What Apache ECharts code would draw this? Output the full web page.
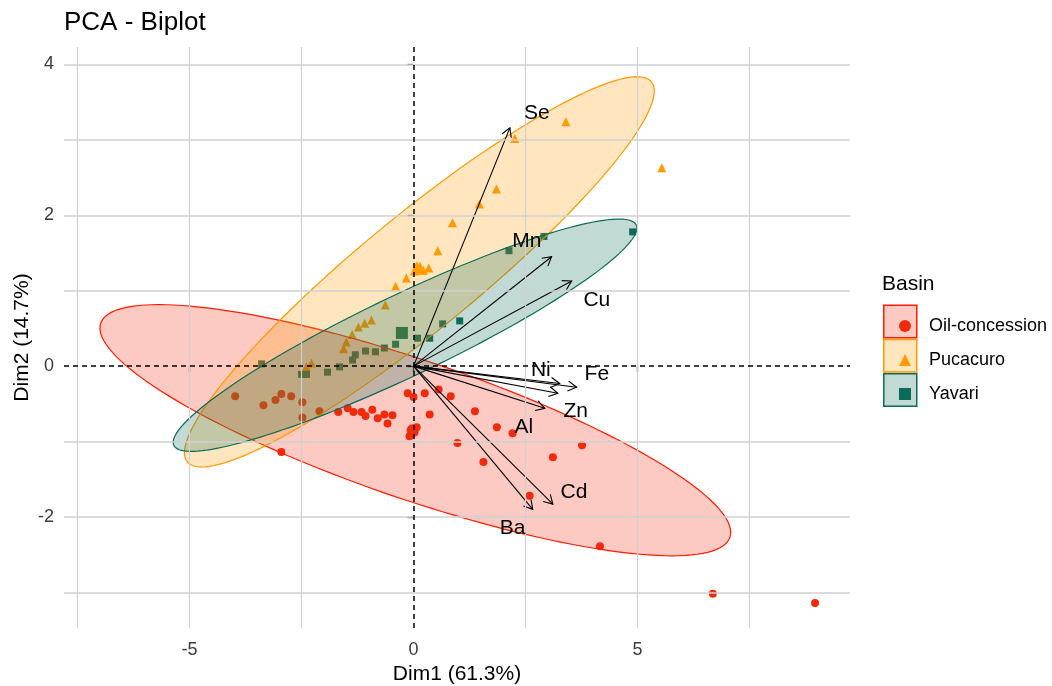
<!DOCTYPE html>
<html><head><meta charset="utf-8">
<script src="https://cdn.jsdelivr.net/npm/echarts@6/dist/echarts.min.js"></script>
<style>html,body{margin:0;padding:0;background:#fff}#c{width:1052px;height:686px}</style>
</head><body><div id="c"></div>
<script>
// ---------- data ----------
const groups = ['Oil-concession', 'Pucacuro', 'Yavari'];
const oilPoints = [
  [-3.98,-0.40],[-3.35,-0.52],[-3.08,-0.45],[-2.95,-0.37],[-2.73,-0.40],[-2.48,-0.48],[-2.48,-0.68],
  [-2.95,-1.14],[-2.10,-0.60],[-1.68,-0.61],[-1.47,-0.56],[-1.34,-0.61],[-1.16,-0.61],[-1.07,-0.66],
  [-0.92,-0.58],[-0.80,-0.69],[-0.65,-0.64],[-0.47,-0.65],[-0.58,-0.76],[-0.13,-0.36],[0.00,-0.41],
  [-0.02,-0.85],[0.07,-0.81],[-0.09,-0.93],[0.02,-0.88],[0.25,-0.36],[0.56,-0.31],[0.83,-0.40],
  [0.36,-0.64],[1.37,-0.60],[1.86,-0.81],[2.21,-0.89],[0.98,-1.02],[1.56,-1.27],[3.11,-1.21],
  [3.76,-1.05],[2.59,-1.72],[4.16,-2.39],[6.68,-3.02],[8.96,-3.14]
];
const pucacuroPoints = [
  [3.40,3.24],[2.26,3.02],[5.54,2.63],[1.85,2.35],[1.47,2.15],[0.87,1.90],[0.54,1.53],[0.13,1.30],
  [0.02,1.26],[0.22,1.27],[0.34,1.30],[0.07,1.33],[-0.16,1.17],[-0.40,1.06],[-0.63,0.81],[-0.94,0.61],
  [-1.09,0.57],[-1.23,0.52],[-1.37,0.42],[-1.50,0.32],[-1.56,0.23],[-2.28,0.04],[-2.39,-0.01]
];
const yavariPoints = [
  [4.89,1.78],[2.91,1.72],[2.13,1.53],[1.03,0.60],[0.65,0.56],[0.36,0.37],[0.09,0.37],[-0.25,0.44],
  [-0.40,0.29],[-0.65,0.24],[-0.85,0.19],[-1.07,0.20],[-1.30,0.15],[-1.36,0.08],[-1.65,-0.01],
  [-1.92,-0.08],[-2.39,-0.11],[-2.50,-0.11],[-3.39,0.03]
];
const groupMeans = [[-0.02,-0.85],[0.14,1.30],[-0.26,0.44]];
// confidence ellipses: centre, and two conjugate semi-axis vectors (data units)
const ellipseCenters = [[0.04,-0.85],[0.13,1.25],[-0.19,0.41]];
const ellipseMajor = [[7.02,-1.42],[5.18,2.52],[5.16,1.46]];
const ellipseMinor = [[-0.50,-0.87],[0.81,-0.59],[0.38,-0.49]];
// variables
const varNames = ['Se','Mn','Cu','Ni','Fe','Al','Zn','Cd','Ba'];
const varTips = [[2.15,3.16],[3.08,1.45],[3.53,1.13],[3.26,-0.23],[3.64,-0.28],[3.22,-0.36],[2.93,-0.56],[3.11,-1.83],[2.66,-1.90]];
const varLabelPos = [[2.75,3.36],[2.53,1.66],[4.09,0.88],[2.84,-0.05],[4.09,-0.11],[2.46,-0.81],[3.62,-0.60],[3.58,-1.67],[2.21,-2.15]];
// axes
const xTicks = [-5, 0, 5];
const yTicks = [-2, 0, 2, 4];
const xGridValues = [-7.5, -5, -2.5, 2.5, 5, 7.5];
const yGridValues = [-3, -2, -1, 1, 2, 3, 4];

// ---------- styles ----------
const FONT = 'Liberation Sans, Arial, sans-serif';
const pointColors = ['#F22A0C', '#FF9A00', '#0C6B58'];
const strokeColors = ['#FF1A00', '#FF9900', '#0C6B58'];
const fillColors = ['rgba(242,42,12,0.25)', 'rgba(255,154,0,0.25)', 'rgba(12,107,88,0.25)'];
const symbols = ['circle', 'triangle', 'rect'];
const symbolSizes = [8, 9, 7];
const meanSizes = [12, 13, 12];
const pointSets = [oilPoints, pucacuroPoints, yavariPoints];

const chart = echarts.init(document.getElementById('c'), null, {renderer: 'canvas'});

const series = [];
// grid lines
series.push({
  type: 'line', data: [], z: 0, silent: true,
  markLine: {silent: true, symbol: 'none', animation: false, label: {show: false},
    lineStyle: {color: '#d0d0d0', type: 'solid', width: 1.2},
    data: xGridValues.map(v => ({xAxis: v}))}
});
series.push({
  type: 'line', data: [], z: 0, silent: true,
  markLine: {silent: true, symbol: 'none', animation: false, label: {show: false},
    lineStyle: {color: '#d0d0d0', type: 'solid', width: 1.6},
    data: yGridValues.map(v => ({yAxis: v}))}
});
// zero dashed lines
series.push({
  type: 'line', data: [], z: 1, silent: true,
  markLine: {silent: true, symbol: 'none', animation: false, label: {show: false},
    lineStyle: {color: '#000', type: [5, 4], width: 1.5},
    data: [{xAxis: 0}, {yAxis: 0}]}
});
// points
groups.forEach((g, i) => {
  series.push({
    name: g, type: 'scatter', z: 2, symbol: symbols[i], symbolSize: symbolSizes[i],
    itemStyle: {color: pointColors[i], opacity: 1}, data: pointSets[i], silent: true
  });
  series.push({
    name: g, type: 'scatter', z: 2, symbol: symbols[i], symbolSize: meanSizes[i],
    itemStyle: {color: pointColors[i], opacity: 1}, data: [groupMeans[i]], silent: true
  });
});
// ellipses
series.push({
  type: 'custom', name: 'ellipses', z: 3, silent: true,
  data: ellipseCenters.map((c, i) => [c[0], c[1], ellipseMajor[i][0], ellipseMajor[i][1], ellipseMinor[i][0], ellipseMinor[i][1]]),
  encode: {x: 0, y: 1},
  renderItem: function (params, api) {
    const i = params.dataIndex;
    const cx = api.value(0), cy = api.value(1), ax = api.value(2), ay = api.value(3), bx = api.value(4), by = api.value(5);
    const pts = [];
    for (let k = 0; k < 160; k++) {
      const t = 2 * Math.PI * k / 160;
      pts.push(api.coord([cx + ax * Math.cos(t) + bx * Math.sin(t), cy + ay * Math.cos(t) + by * Math.sin(t)]));
    }
    return {type: 'polygon', shape: {points: pts}, style: {fill: fillColors[i], stroke: strokeColors[i], lineWidth: 1.2}};
  }
});
// arrows
series.push({
  type: 'custom', name: 'arrows', z: 4, silent: true,
  data: varTips, encode: {x: 0, y: 1},
  renderItem: function (params, api) {
    const o = api.coord([0, 0]);
    const e = api.coord([api.value(0), api.value(1)]);
    const ang = Math.atan2(e[1] - o[1], e[0] - o[0]);
    const L = 10, A = Math.PI / 6;
    const h1 = [e[0] - L * Math.cos(ang - A), e[1] - L * Math.sin(ang - A)];
    const h2 = [e[0] - L * Math.cos(ang + A), e[1] - L * Math.sin(ang + A)];
    return {type: 'group', children: [
      {type: 'line', shape: {x1: o[0], y1: o[1], x2: e[0], y2: e[1]}, style: {stroke: '#000', lineWidth: 1.1}},
      {type: 'polyline', shape: {points: [h1, e, h2]}, style: {stroke: '#000', fill: null, lineWidth: 1.1}}
    ]};
  }
});
// variable labels
series.push({
  type: 'custom', name: 'varLabels', z: 5, silent: true,
  data: varLabelPos, encode: {x: 0, y: 1},
  renderItem: function (params, api) {
    const p = api.coord([api.value(0), api.value(1)]);
    return {type: 'text', x: p[0], y: p[1], style: {text: varNames[params.dataIndex], fontSize: 21, fontFamily: FONT, fill: '#000', align: 'center', verticalAlign: 'middle'}};
  }
});

const option = {
  backgroundColor: '#fff',
  animation: false,
  title: [
    {text: 'PCA - Biplot', left: 64, top: 10, padding: 0, textStyle: {fontSize: 26, fontWeight: 'normal', color: '#000', fontFamily: FONT}},
    {text: 'Basin', left: 882, top: 274, padding: 0, textStyle: {fontSize: 21, fontWeight: 'normal', color: '#000', fontFamily: FONT}}
  ],
  grid: {left: 64, right: 202, top: 47, bottom: 58, containLabel: false, outerBoundsMode: 'none'},
  xAxis: {
    type: 'value', min: -7.80, max: 9.74,
    name: 'Dim1 (61.3%)', nameLocation: 'middle', nameGap: 36,
    nameTextStyle: {fontSize: 21, color: '#000', fontFamily: FONT},
    axisLine: {show: true, lineStyle: {color: 'rgba(0,0,0,0)'}},
    axisTick: {show: true, customValues: xTicks, length: 6, lineStyle: {color: '#333', width: 1.3}},
    axisLabel: {customValues: xTicks, fontSize: 18, color: '#3a3a3a', margin: 13, fontFamily: FONT},
    splitLine: {show: false}
  },
  yAxis: {
    type: 'value', min: -3.473, max: 4.232,
    name: 'Dim2 (14.7%)', nameLocation: 'middle', nameGap: 31, nameMoveOverlap: false,
    nameTextStyle: {fontSize: 21, color: '#000', fontFamily: FONT},
    axisLine: {show: true, lineStyle: {color: 'rgba(0,0,0,0)'}},
    axisTick: {show: true, customValues: yTicks, length: 6, lineStyle: {color: '#333', width: 1.3}},
    axisLabel: {customValues: yTicks, fontSize: 18, color: '#3a3a3a', margin: 10, fontFamily: FONT},
    splitLine: {show: false}
  },
  legend: {
    orient: 'vertical', left: 894, top: 311, itemWidth: 12, itemHeight: 12, itemGap: 14, selectedMode: false,
    data: groups.map((g, i) => ({name: g, icon: symbols[i]})),
    textStyle: {fontSize: 18, color: '#000', fontFamily: FONT, padding: [0, 0, 0, 13], lineHeight: 20}
  },
  graphic: groups.map((g, i) => ({
    type: 'rect', left: 883, top: 304.5 + i * 34.3, z: 0, silent: true,
    shape: {width: 33, height: 32.5},
    style: {fill: fillColors[i], stroke: strokeColors[i], lineWidth: 1.5}
  })),
  series: series
};
chart.setOption(option);
</script>
</body></html>
